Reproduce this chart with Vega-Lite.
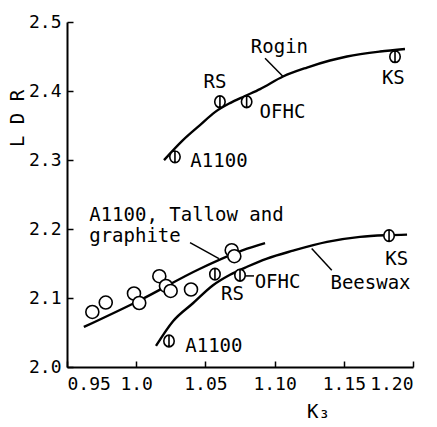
{
  "$schema": "https://vega.github.io/schema/vega-lite/v6.json",
  "width": 346,
  "height": 345,
  "autosize": {"type": "none"},
  "padding": {"left": 67, "top": 22, "right": 24, "bottom": 60},
  "background": "white",
  "config": {
    "view": {"stroke": null},
    "font": "DejaVu Sans Mono",
    "axis": {
      "grid": false,
      "domainColor": "black",
      "domainWidth": 2,
      "tickColor": "black",
      "tickWidth": 1.5,
      "tickSize": -6,
      "labelColor": "black",
      "labelFont": "DejaVu Sans Mono",
      "labelFontSize": 18,
      "titleFont": "DejaVu Sans Mono",
      "titleFontSize": 19,
      "titleColor": "black",
      "titleFontWeight": "normal"
    }
  },
  "datasets": {
    "curves": [
      {"series": "Rogin", "k": 1.0201, "ldr": 2.2998},
      {"series": "Rogin", "k": 1.0338, "ldr": 2.3288},
      {"series": "Rogin", "k": 1.0461, "ldr": 2.3506},
      {"series": "Rogin", "k": 1.0569, "ldr": 2.3694},
      {"series": "Rogin", "k": 1.0678, "ldr": 2.3825},
      {"series": "Rogin", "k": 1.0786, "ldr": 2.3927},
      {"series": "Rogin", "k": 1.0895, "ldr": 2.4028},
      {"series": "Rogin", "k": 1.1061, "ldr": 2.4210},
      {"series": "Rogin", "k": 1.1234, "ldr": 2.4340},
      {"series": "Rogin", "k": 1.1400, "ldr": 2.4442},
      {"series": "Rogin", "k": 1.1523, "ldr": 2.4500},
      {"series": "Rogin", "k": 1.1762, "ldr": 2.4572},
      {"series": "Rogin", "k": 1.1942, "ldr": 2.4609},
      {"series": "Tallow", "k": 0.9622, "ldr": 2.0580},
      {"series": "Tallow", "k": 1.0027, "ldr": 2.0968},
      {"series": "Tallow", "k": 1.0461, "ldr": 2.1424},
      {"series": "Tallow", "k": 1.0772, "ldr": 2.1693},
      {"series": "Tallow", "k": 1.0931, "ldr": 2.1794},
      {"series": "Beeswax", "k": 1.0143, "ldr": 2.0305},
      {"series": "Beeswax", "k": 1.0266, "ldr": 2.0663},
      {"series": "Beeswax", "k": 1.0410, "ldr": 2.0924},
      {"series": "Beeswax", "k": 1.0555, "ldr": 2.1185},
      {"series": "Beeswax", "k": 1.0678, "ldr": 2.1337},
      {"series": "Beeswax", "k": 1.0801, "ldr": 2.1453},
      {"series": "Beeswax", "k": 1.0945, "ldr": 2.1572},
      {"series": "Beeswax", "k": 1.1133, "ldr": 2.1686},
      {"series": "Beeswax", "k": 1.1379, "ldr": 2.1813},
      {"series": "Beeswax", "k": 1.1617, "ldr": 2.1886},
      {"series": "Beeswax", "k": 1.1819, "ldr": 2.1910},
      {"series": "Beeswax", "k": 1.1957, "ldr": 2.1918}
    ],
    "points": [
      {"type": "open", "k": 0.9683, "ldr": 2.0798},
      {"type": "open", "k": 0.9780, "ldr": 2.0934},
      {"type": "open", "k": 0.9984, "ldr": 2.1065},
      {"type": "open", "k": 1.0022, "ldr": 2.0928},
      {"type": "open", "k": 1.0167, "ldr": 2.1316},
      {"type": "open", "k": 1.0215, "ldr": 2.1175},
      {"type": "open", "k": 1.0249, "ldr": 2.1102},
      {"type": "open", "k": 1.0396, "ldr": 2.1123},
      {"type": "open", "k": 1.0690, "ldr": 2.1693},
      {"type": "open", "k": 1.0709, "ldr": 2.1606},
      {"type": "phi", "k": 1.0280, "ldr": 2.3046},
      {"type": "phi", "k": 1.0605, "ldr": 2.3844},
      {"type": "phi", "k": 1.0798, "ldr": 2.3844},
      {"type": "phi", "k": 1.1870, "ldr": 2.4497},
      {"type": "phi", "k": 1.0237, "ldr": 2.0377},
      {"type": "phi", "k": 1.0569, "ldr": 2.1345},
      {"type": "phi", "k": 1.0750, "ldr": 2.1330},
      {"type": "phi", "k": 1.1827, "ldr": 2.1903}
    ],
    "labels": [
      {"text": "Rogin", "k": 1.1035, "ldr": 2.4546},
      {"text": "RS", "k": 1.0569, "ldr": 2.4042},
      {"text": "OFHC", "k": 1.1057, "ldr": 2.3607},
      {"text": "KS", "k": 1.1858, "ldr": 2.4101},
      {"text": "A1100", "k": 1.0598, "ldr": 2.2897},
      {"text": "A1100, Tallow and", "k": 1.0363, "ldr": 2.2114},
      {"text": "graphite", "k": 0.9991, "ldr": 2.1809},
      {"text": "KS", "k": 1.1882, "ldr": 2.1475},
      {"text": "Beeswax", "k": 1.1693, "ldr": 2.1127},
      {"text": "OFHC", "k": 1.1021, "ldr": 2.1142},
      {"text": "RS", "k": 1.0696, "ldr": 2.0967},
      {"text": "A1100", "k": 1.0561, "ldr": 2.0218}
    ],
    "leaders": [
      {"k": 1.0931, "ldr": 2.4474, "k2": 1.1061, "ldr2": 2.4210},
      {"k": 1.0389, "ldr": 2.1803, "k2": 1.0598, "ldr2": 2.1572},
      {"k": 1.1268, "ldr": 2.1717, "k2": 1.1413, "ldr2": 2.1403},
      {"k": 1.0786, "ldr": 2.1320, "k2": 1.0851, "ldr2": 2.1320}
    ]
  },
  "layer": [
    {
      "data": {"name": "curves"},
      "mark": {"type": "line", "interpolate": "monotone", "color": "black", "strokeWidth": 2.4},
      "encoding": {
        "x": {
          "field": "k", "type": "quantitative",
          "scale": {"domain": [0.95, 1.2], "nice": false, "zero": false},
          "axis": {
            "values": [0.95, 1.0, 1.05, 1.1, 1.15, 1.2],
            "labelExpr": "datum.value == 1 ? '1.0' : format(datum.value, '.2f')",
            "labelPadding": 14,
            "title": "K₃",
            "titleX": 251,
            "titleY": 50,
            "titleBaseline": "alphabetic",
            "titleAlign": "center"
          }
        },
        "y": {
          "field": "ldr", "type": "quantitative",
          "scale": {"domain": [2.0, 2.5], "nice": false, "zero": false},
          "axis": {
            "values": [2.0, 2.1, 2.2, 2.3, 2.4, 2.5],
            "format": ".1f",
            "labelPadding": 12,
            "title": "L D R",
            "titleX": -50,
            "titleY": 96,
            "titleAngle": -90,
            "titleAlign": "center",
            "titleBaseline": "middle"
          }
        },
        "detail": {"field": "series", "type": "nominal"}
      }
    },
    {
      "data": {"name": "leaders"},
      "mark": {"type": "rule", "color": "black", "strokeWidth": 1.5},
      "encoding": {
        "x": {"field": "k", "type": "quantitative"},
        "y": {"field": "ldr", "type": "quantitative"},
        "x2": {"field": "k2"},
        "y2": {"field": "ldr2"}
      }
    },
    {
      "data": {"name": "points"},
      "mark": {"type": "point", "filled": false, "stroke": "black", "strokeWidth": 1.6, "size": 169, "opacity": 1, "fill": "white", "fillOpacity": 1},
      "encoding": {
        "x": {"field": "k", "type": "quantitative"},
        "y": {"field": "ldr", "type": "quantitative"},
        "shape": {
          "field": "type", "type": "nominal",
          "scale": {"domain": ["open", "phi"], "range": ["circle", "M0,-1L0,1M-0.8,0A0.8,0.9,0,1,1,0.8,0A0.8,0.9,0,1,1,-0.8,0Z"]},
          "legend": null
        }
      }
    },
    {
      "data": {"name": "labels"},
      "mark": {"type": "text", "font": "DejaVu Sans Mono", "fontSize": 19, "color": "black", "align": "center", "baseline": "alphabetic"},
      "encoding": {
        "x": {"field": "k", "type": "quantitative"},
        "y": {"field": "ldr", "type": "quantitative"},
        "text": {"field": "text", "type": "nominal"}
      }
    }
  ]
}
